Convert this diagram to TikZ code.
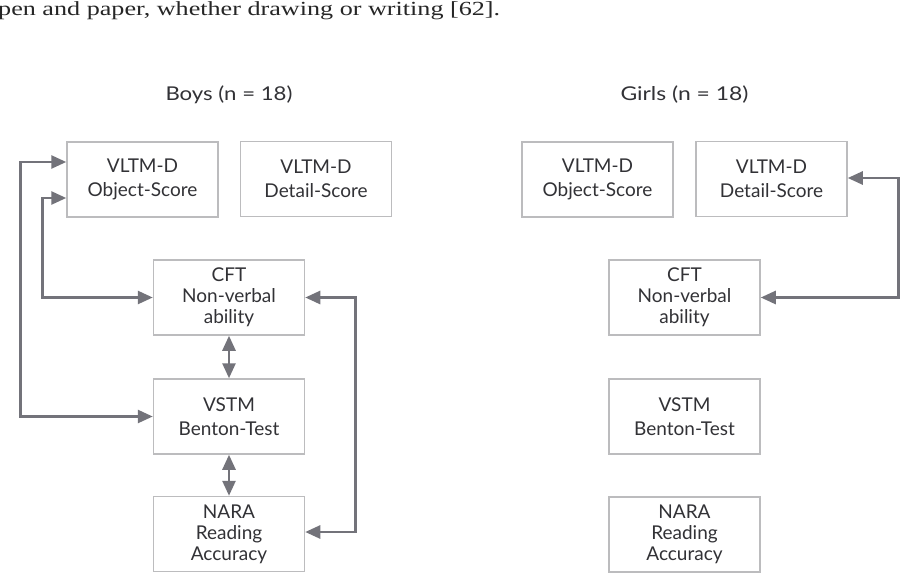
\documentclass[tikz,border=0pt]{standalone}
\usepackage{fontspec}
\usepackage{graphicx}
\setmainfont{Liberation Serif}
\newfontfamily\diagfont{Lato}
\usetikzlibrary{arrows.meta}
\definecolor{boxgray}{RGB}{188,188,190}
\definecolor{txtgray}{RGB}{50,50,54}
\definecolor{arrgray}{RGB}{115,115,122}
\tikzset{
  stepbox/.style={draw=boxgray, line width=1.5pt, minimum width=151pt, minimum height=75pt,
    inner sep=0pt, align=center, text=txtgray, font=\diagfont\fontsize{19}{24}\selectfont},
  threeline/.style={font=\diagfont\fontsize{19}{21}\selectfont},
  title/.style={text=txtgray, font=\diagfont\fontsize{19}{22}\selectfont, inner sep=0pt},
  arr/.style={draw=arrgray, line width=2.6pt, {Triangle[length=15pt,width=13pt]}-{Triangle[length=15pt,width=13pt]}},
}
\begin{document}
\begin{tikzpicture}[x=1pt,y=-1pt]
\useasboundingbox (0,0) rectangle (907,573);
\fill[white] (0,0) rectangle (907,573);
\node[anchor=base west, inner sep=0pt, text=black!85] (top) at (-2,15)
  {\resizebox{502pt}{\height}{\fontsize{20}{24}\selectfont pen and paper, whether drawing or writing [62].}};

\node[title] (boys) at (229,95) {\resizebox{127pt}{\height}{Boys (n = 18)}};
\node[title] (girls) at (684.5,95) {\resizebox{128pt}{\height}{Girls (n = 18)}};

% Boys
\node[stepbox] (objL) at (142.5,179.5) {VLTM-D\\Object-Score};
\node[stepbox] (detL) at (316,179) {VLTM-D\\Detail-Score};
\node[stepbox,threeline] (cftL) at (229,297.5) {CFT\\Non-verbal\\ability};
\node[stepbox] (vstmL) at (229,416.5) {VSTM\\Benton-Test};
\node[stepbox,threeline] (naraL) at (229,534) {NARA\\Reading\\Accuracy};

% Girls
\node[stepbox] (objR) at (597.5,179.5) {VLTM-D\\Object-Score};
\node[stepbox] (detR) at (771.5,179) {VLTM-D\\Detail-Score};
\node[stepbox,threeline] (cftR) at (684.5,297.5) {CFT\\Non-verbal\\ability};
\node[stepbox] (vstmR) at (684.5,416.5) {VSTM\\Benton-Test};
\node[stepbox,threeline] (naraR) at (684.5,534.5) {NARA\\Reading\\Accuracy};

% Boys connectors
\draw[arr] ([yshift=17.5pt]objL.west) -- ++(-46,0) |- (vstmL.west);
\draw[arr] ([yshift=-18.5pt]objL.west) -- ++(-24,0) |- (cftL.west);
\draw[arr] (cftL.east) -- ++(50,0) |- ([yshift=2pt]naraL.east);
\draw[arr] (cftL.south) -- (vstmL.north);
\draw[arr] (vstmL.south) -- (naraL.north);

% Girls connector
\draw[arr] ([yshift=1pt]detR.east) -- ++(51,0) |- (cftR.east);
\end{tikzpicture}
\end{document}
